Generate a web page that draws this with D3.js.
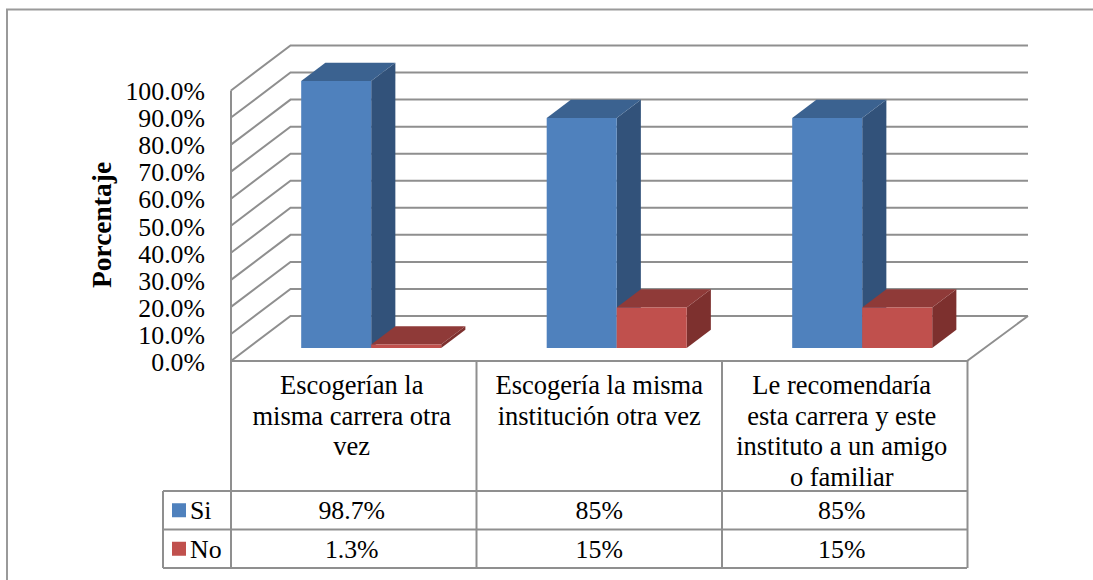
<!DOCTYPE html>
<html><head><meta charset="utf-8">
<script src="https://cdn.jsdelivr.net/npm/d3@7"></script>
<style>
html,body{margin:0;padding:0;background:#fff;overflow:hidden}
svg{display:block}
text{font-family:"Liberation Serif","Times New Roman",serif;fill:#000}
</style></head><body>
<svg id="c" width="1093" height="580"></svg>
<script>
const categories = ["Escogerían la misma carrera otra vez","Escogería la misma institución otra vez","Le recomendaría esta carrera y este instituto a un amigo o familiar"];
const categoryLines = [
  ["Escogerían la","misma carrera otra","vez"],
  ["Escogería la misma","institución otra vez"],
  ["Le recomendaría","esta carrera y este","instituto a un amigo","o familiar"]
];
const seriesNames = ["Si","No"];
const siValues = [98.7,85,85];
const noValues = [1.3,15,15];
const siLabels = ["98.7%","85%","85%"];
const noLabels = ["1.3%","15%","15%"];
const seriesValues = [siValues,noValues];
const seriesLabels = [siLabels,noLabels];
const yTicks = [0,10,20,30,40,50,60,70,80,90,100];
const frontColors = ["#4f81bd","#c0504d"];
const topColors = ["#3b6290","#8f3a38"];
const sideColors = ["#32527a","#7d302e"];

const svg = d3.select("#c");
const grid = "#8f8f8f";
const depthX = 59.5, depthY = 45;
const y = d3.scaleLinear().domain([0,100]).range([361,90.5]);
const x0 = d3.scaleBand().domain(categories).range([231,967.5]);
const x1 = d3.scaleBand().domain(seriesNames).range([53,193]);
const right = 967;
const textShift = [-2,0,-3];
const P = (x,v,d)=>[x+depthX*d, y(v)-depthY*d];
const line = (pts,c=grid,w=2)=>svg.append("path").attr("d","M"+pts.map(p=>p.join(",")).join("L"))
  .attr("fill","none").attr("stroke",c).attr("stroke-width",w);

// outer frame
line([[7,580],[7,9.5],[1093,9.5]],"#9a9a9a",2);

// walls
yTicks.forEach(t=>{
  line([P(231,t,0),P(231,t,1),[right+61,y(t)-depthY]]);
});
line([P(231,0,0),P(231,100,0)]);
line([[231,361],[right,361],[right+61,316]]);

// bars
const d0 = 0.289, d1 = 0.695;
categories.forEach((c,i)=>{
  seriesNames.forEach((s,j)=>{
    const v = seriesValues[j][i];
    const xa = x0(c)+x1(s), xb = xa+x1.bandwidth();
    const baseY = 0;
    const poly = (pts,f)=>svg.append("polygon").attr("points",pts.map(p=>p.join(",")).join(" ")).attr("fill",f);
    poly([P(xb,baseY,d0),P(xb,baseY,d1),P(xb,v,d1),P(xb,v,d0)],sideColors[j]);
    poly([P(xa,v,d0),P(xb,v,d0),P(xb,v,d1),P(xa,v,d1)],topColors[j]);
    poly([P(xa,baseY,d0),P(xb,baseY,d0),P(xb,v,d0),P(xa,v,d0)],frontColors[j]);
  });
});

// y axis
const axis = d3.axisLeft(y).tickValues(yTicks).tickSize(0).tickPadding(0).tickFormat(d=>d.toFixed(1)+"%");
const ag = svg.append("g").attr("transform","translate(205,0)").call(axis);
ag.select(".domain").remove();
ag.selectAll("text").attr("font-size",25.8).style("font-family",'"Liberation Serif",serif').attr("fill","#000").attr("dy","0.36em");

svg.append("text").attr("transform","translate(110.5,225) rotate(-90)").attr("text-anchor","middle")
  .attr("font-weight","bold").attr("font-size",27.5).text("Porcentaje");

// data table
const rows = [491,529.5,568];
const cols = [231,...categories.map(c=>x0(c)+x0.bandwidth())];
rows.forEach(r=>line([[163,r],[right,r]]));
line([[163,rows[0]],[163,rows[2]]]);
cols.forEach((cx,i)=>line([[cx,361],[cx,rows[2]]]));

categories.forEach((c,i)=>{
  const cx = x0(c)+x0.bandwidth()/2+textShift[i];
  categoryLines[i].forEach((l,k)=>{
    svg.append("text").attr("x",cx).attr("y",394+k*30.7).attr("text-anchor","middle").attr("font-size",26.5).text(l);
  });
  seriesNames.forEach((s,j)=>{
    svg.append("text").attr("x",cx).attr("y",(rows[j]+rows[j+1])/2+9).attr("text-anchor","middle").attr("font-size",25.8).text(seriesLabels[j][i]);
  });
});
seriesNames.forEach((s,j)=>{
  const m = (rows[j]+rows[j+1])/2;
  svg.append("rect").attr("x",172).attr("y",m-7).attr("width",14).attr("height",14).attr("fill",frontColors[j]);
  svg.append("text").attr("x",190).attr("y",m+9).attr("font-size",25.8).text(s);
});
</script>
</body></html>
